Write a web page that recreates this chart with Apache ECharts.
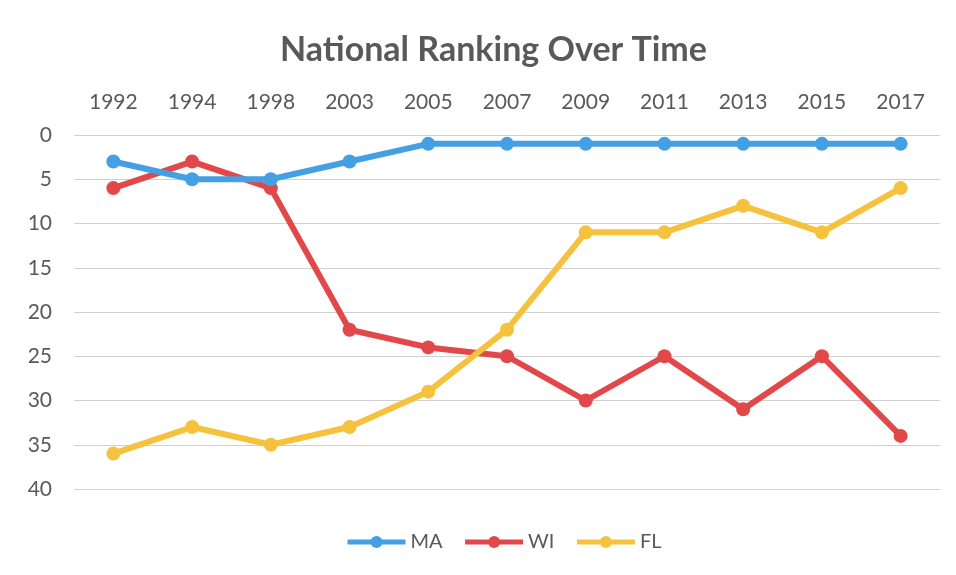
<!DOCTYPE html>
<html lang="en">
<head>
    <meta charset="UTF-8">
    <title>National Ranking Over Time</title>
    <script src="https://cdnjs.cloudflare.com/ajax/libs/echarts/6.0.0/echarts.min.js"></script>
    <style>
        html, body { margin: 0; padding: 0; background: #fff; }
    </style>
</head>
<body>
<div id="container" style="width: 956px;height: 575px"></div>
<script>
    var years = ['1992', '1994', '1998', '2003', '2005', '2007', '2009', '2011', '2013', '2015', '2017'];
    var maRank = [3, 5, 5, 3, 1, 1, 1, 1, 1, 1, 1];
    var wiRank = [6, 3, 6, 22, 24, 25, 30, 25, 31, 25, 34];
    var flRank = [36, 33, 35, 33, 29, 22, 11, 11, 8, 11, 6];

    var myChart = echarts.init(document.getElementById('container'));

    function line(name, data, color) {
        return {
            type: 'line',
            name: name,
            data: data,
            symbol: 'circle',
            symbolSize: 14,
            itemStyle: { color: color },
            lineStyle: { width: 6, color: color },
            z: name === 'MA' ? 3 : 2
        };
    }

    var option = {
        textStyle: { fontFamily: 'Lato' },
        title: {
            text: 'National Ranking Over Time',
            left: 275,
            top: 28,
            textStyle: { fontFamily: 'Lato', fontSize: 34, fontWeight: 'bold', color: '#595959' }
        },
        legend: {
            bottom: 18,
            left: 340,
            itemWidth: 58,
            itemHeight: 15,
            itemGap: 20,
            lineStyle: { width: 5 },
            textStyle: { fontSize: 20, color: '#595959' },
            data: ['MA', 'WI', 'FL']
        },
        grid: { left: 74, right: 16, top: 135, bottom: 86 },
        xAxis: {
            type: 'category',
            position: 'top',
            data: years,
            axisLine: { show: false },
            axisTick: { show: false },
            axisLabel: { fontSize: 21, color: '#595959', margin: 22 }
        },
        yAxis: {
            type: 'value',
            inverse: true,
            min: 0,
            max: 40,
            interval: 5,
            axisLabel: { fontSize: 21, color: '#595959', margin: 22 },
            splitLine: { lineStyle: { color: '#d0d0d0', width: 1 } }
        },
        series: [
            line('MA', maRank, '#44a0e2'),
            line('WI', wiRank, '#e2474a'),
            line('FL', flRank, '#f6c23d')
        ]
    };

    myChart.setOption(option);
</script>
</body>
</html>
